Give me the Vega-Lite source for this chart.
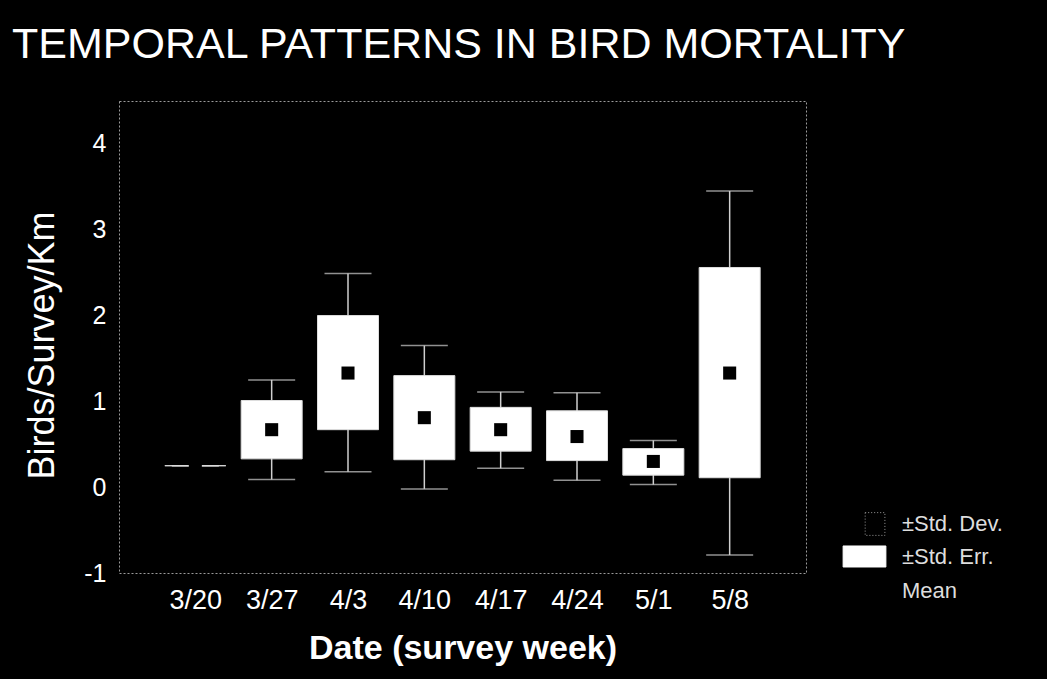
{
  "$schema": "https://vega.github.io/schema/vega-lite/v6.json",
  "width": 687,
  "height": 472,
  "autosize": {"type": "none"},
  "padding": {"left": 119, "top": 101, "right": 241, "bottom": 106},
  "background": "black",
  "title": {
    "text": "TEMPORAL PATTERNS IN BIRD MORTALITY",
    "anchor": "start",
    "frame": "group",
    "orient": "top",
    "baseline": "alphabetic",
    "offset": 41,
    "dx": -107,
    "dy": 41,
    "font": "Liberation Sans",
    "fontSize": 43,
    "fontWeight": "normal",
    "color": "white"
  },
  "datasets": {
    "weeks": [
      {"week": "3/20", "mean": 0.25, "se_lo": 0.25, "se_hi": 0.25, "sd_lo": 0.25, "sd_hi": 0.25},
      {"week": "3/27", "mean": 0.67, "se_lo": 0.33, "se_hi": 1.01, "sd_lo": 0.09, "sd_hi": 1.25},
      {"week": "4/3", "mean": 1.33, "se_lo": 0.67, "se_hi": 2.0, "sd_lo": 0.18, "sd_hi": 2.49},
      {"week": "4/10", "mean": 0.81, "se_lo": 0.32, "se_hi": 1.3, "sd_lo": -0.02, "sd_hi": 1.65},
      {"week": "4/17", "mean": 0.67, "se_lo": 0.42, "se_hi": 0.93, "sd_lo": 0.22, "sd_hi": 1.11},
      {"week": "4/24", "mean": 0.59, "se_lo": 0.31, "se_hi": 0.89, "sd_lo": 0.08, "sd_hi": 1.1},
      {"week": "5/1", "mean": 0.3, "se_lo": 0.14, "se_hi": 0.45, "sd_lo": 0.03, "sd_hi": 0.545},
      {"week": "5/8", "mean": 1.33, "se_lo": 0.11, "se_hi": 2.56, "sd_lo": -0.79, "sd_hi": 3.45}
    ],
    "legend": [
      {"k": "±Std. Dev."},
      {"k": "±Std. Err."},
      {"k": "Mean"}
    ]
  },
  "layer": [
    {
      "data": {"name": "weeks"},
      "mark": {"type": "rule", "color": "#cfcfcf", "strokeWidth": 1.5},
      "encoding": {
        "x": {"field": "week", "type": "ordinal", "sort": null, "scale": {"type": "point", "padding": 1}, "title": "Date (survey week)"},
        "y": {"field": "sd_lo", "type": "quantitative", "scale": {"domain": [-1, 4.5], "nice": false, "zero": false}, "axis": {"values": [-1, 0, 1, 2, 3, 4], "labelExpr": "datum.value + ''"}, "title": "Birds/Survey/Km"},
        "y2": {"field": "sd_hi"}
      }
    },
    {
      "data": {"name": "weeks"},
      "mark": {"type": "tick", "orient": "horizontal", "size": 47, "thickness": 1.5, "color": "#cfcfcf"},
      "encoding": {
        "x": {"field": "week", "type": "ordinal", "sort": null, "title": "Date (survey week)"},
        "y": {"field": "sd_lo", "type": "quantitative", "title": "Birds/Survey/Km"}
      }
    },
    {
      "data": {"name": "weeks"},
      "mark": {"type": "tick", "orient": "horizontal", "size": 47, "thickness": 1.5, "color": "#cfcfcf"},
      "encoding": {
        "x": {"field": "week", "type": "ordinal", "sort": null, "title": "Date (survey week)"},
        "y": {"field": "sd_hi", "type": "quantitative", "title": "Birds/Survey/Km"}
      }
    },
    {
      "data": {"name": "weeks"},
      "mark": {"type": "bar", "width": 61, "color": "white", "stroke": "#dddddd", "strokeWidth": 1},
      "encoding": {
        "x": {"field": "week", "type": "ordinal", "sort": null, "title": "Date (survey week)"},
        "y": {"field": "se_lo", "type": "quantitative", "title": "Birds/Survey/Km"},
        "y2": {"field": "se_hi"}
      }
    },
    {
      "data": {"name": "weeks"},
      "mark": {"type": "point", "shape": "square", "size": 170, "filled": true, "color": "black", "opacity": 1},
      "encoding": {
        "x": {"field": "week", "type": "ordinal", "sort": null, "title": "Date (survey week)"},
        "y": {"field": "mean", "type": "quantitative", "title": "Birds/Survey/Km"}
      }
    },
    {
      "data": {"name": "legend"},
      "mark": {"type": "point", "opacity": 0, "filled": true},
      "encoding": {
        "shape": {"field": "k", "type": "nominal", "title": null, "scale": {"domain": ["±Std. Dev.", "±Std. Err.", "Mean"], "range": ["M0.04,-0.64H1.2V0.7H0.04Z", "M-1.26,-0.62H1.26V0.62H-1.26Z", "square"]}},
        "fill": {"field": "k", "type": "nominal", "title": null, "scale": {"domain": ["±Std. Dev.", "±Std. Err.", "Mean"], "range": ["transparent", "white", "black"]}},
        "stroke": {"field": "k", "type": "nominal", "title": null, "scale": {"domain": ["±Std. Dev.", "±Std. Err.", "Mean"], "range": ["#999999", "white", "black"]}},
        "strokeDash": {"field": "k", "type": "nominal", "title": null, "scale": {"domain": ["±Std. Dev.", "±Std. Err.", "Mean"], "range": [[1, 2], [1, 0], [1, 0]]}}
      }
    }
  ],
  "config": {
    "font": "Liberation Sans",
    "view": {"stroke": "#9a9a9a", "strokeDash": [2, 2], "strokeWidth": 1, "fill": "black"},
    "axis": {
      "domain": false,
      "grid": false,
      "ticks": false,
      "labelColor": "white",
      "labelFont": "Liberation Sans",
      "titleColor": "white",
      "titleFont": "Liberation Sans"
    },
    "axisX": {
      "labelFontSize": 27,
      "labelAngle": 0,
      "labelPadding": 14,
      "titleFontSize": 34,
      "titleFontWeight": "bold",
      "titlePadding": 18
    },
    "axisY": {
      "labelFontSize": 25,
      "labelPadding": 13,
      "titleFontSize": 36,
      "titleFontWeight": "normal",
      "titlePadding": 22,
      "titleY": 244
    },
    "legend": {
      "orient": "none",
      "legendX": 728,
      "legendY": 405,
      "padding": 0,
      "symbolSize": 1156,
      "symbolStrokeWidth": 1,
      "symbolOpacity": 1,
      "labelFontSize": 22,
      "labelColor": "#dddddd",
      "labelFont": "Liberation Sans",
      "labelOffset": 20,
      "rowPadding": 1
    }
  }
}
